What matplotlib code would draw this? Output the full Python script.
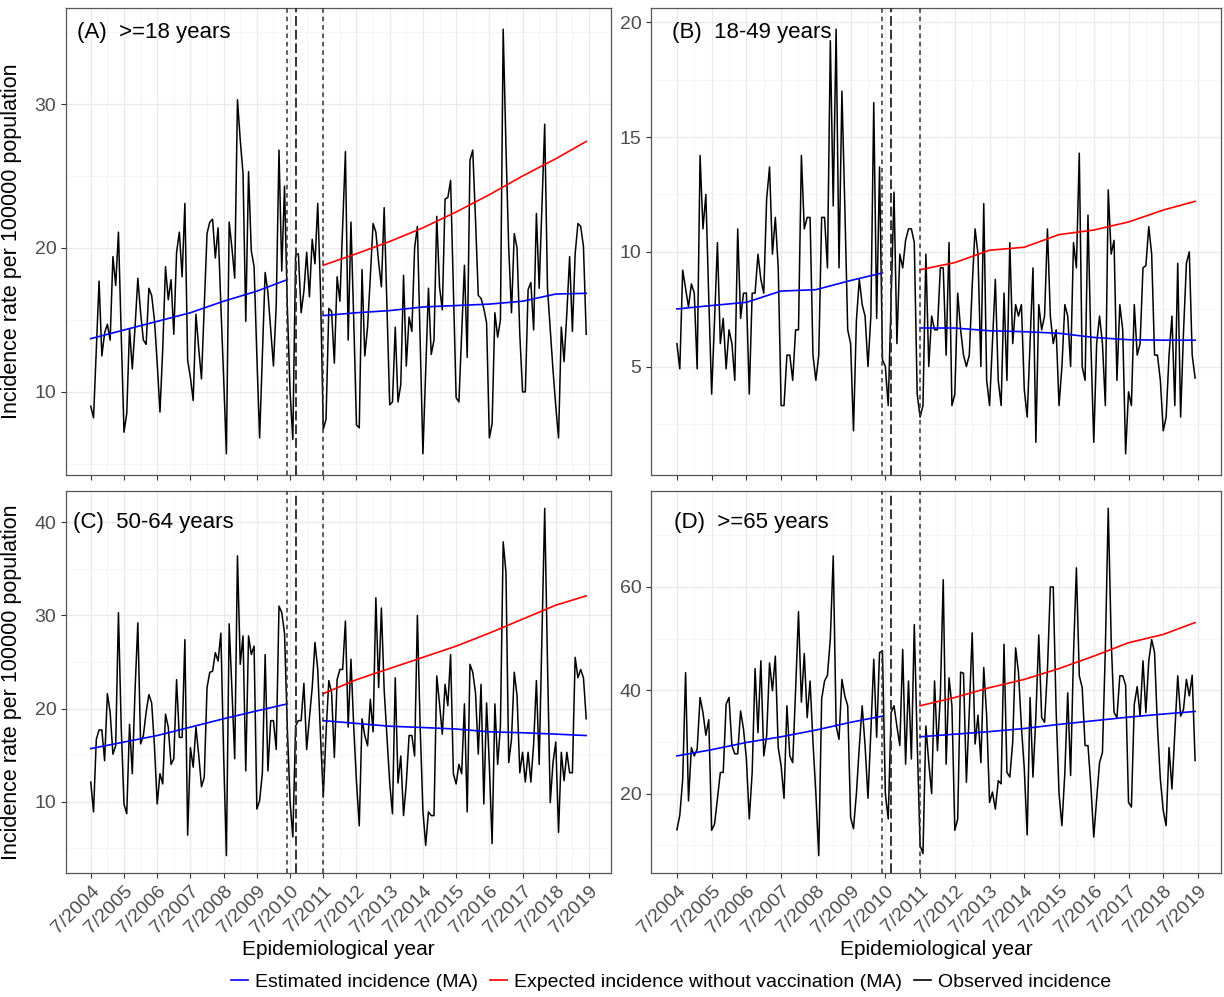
import numpy as np
import matplotlib
matplotlib.use("Agg")
import matplotlib.pyplot as plt
from matplotlib.lines import Line2D

plt.rcParams["font.family"] = ["Liberation Sans", "DejaVu Sans"]

# months since 7/2004 (0 .. 179 -> 7/2004 .. 6/2019)
year_labels = ["7/%d" % y for y in range(2004, 2020)]
cutoffs = [71, 74, 84]          # 6/2010, 9/2010, 7/2011
ma_pre_months = [0, 12, 24, 36, 48, 60, 71]
ma_post_months = [84, 96, 108, 120, 132, 144, 156, 168, 179]

# (A) >=18 years
obs_a = [9.0, 8.2, 13.0, 17.7, 12.5, 14.1, 14.7, 13.6, 19.4, 17.4,
         21.1, 14.0, 7.2, 8.5, 14.4, 11.6, 14.5, 17.9, 15.5, 13.6,
         13.3, 17.2, 16.7, 15.0, 12.0, 8.6, 13.0, 18.7, 16.4, 17.8,
         14.0, 19.7, 21.1, 18.0, 23.1, 12.2, 11.0, 9.4, 15.4, 13.0,
         10.9, 16.0, 21.0, 21.8, 22.0, 19.3, 21.4, 16.0, 11.0, 5.7,
         21.8, 20.0, 17.9, 30.3, 27.5, 25.2, 14.9, 25.3, 19.8, 18.7,
         12.5, 6.8, 12.5, 18.3, 16.9, 14.3, 11.8, 16.0, 26.8, 18.4,
         24.3, 16.0, 10.0, 6.7, 19.5, 19.6, 15.5, 17.0, 19.7, 16.6,
         20.6, 18.9, 23.1, 17.0, 7.4, 8.1, 15.8, 15.6, 12.0, 18.0,
         16.3, 21.5, 26.7, 13.6, 21.8, 15.0, 7.7, 7.5, 18.5, 12.5,
         14.5, 18.0, 21.7, 21.1, 19.0, 17.3, 22.8, 16.0, 9.1, 9.3,
         14.5, 9.3, 10.5, 18.1, 11.8, 15.2, 14.2, 20.0, 21.5, 13.5,
         5.7, 11.5, 17.2, 12.6, 13.6, 22.2, 17.3, 15.7, 23.4, 23.5,
         24.7, 17.0, 9.6, 9.3, 14.0, 18.8, 12.4, 26.1, 26.8, 22.0,
         16.7, 16.5, 15.8, 14.8, 6.8, 7.8, 15.5, 13.8, 15.0, 35.2,
         27.0, 20.0, 15.5, 21.0, 20.0, 14.0, 10.0, 10.0, 17.1, 17.6,
         14.3, 22.4, 17.2, 23.0, 28.6, 17.2, 14.3, 11.5, 9.0, 6.8,
         14.5, 12.1, 15.5, 19.4, 14.2, 19.6, 21.7, 21.5, 20.1, 14.0]
est_pre_a = [13.7, 14.3, 14.9, 15.5, 16.3, 17.0, 17.8]
est_post_a = [15.3, 15.5, 15.65, 15.9, 16.0, 16.1, 16.3, 16.8, 16.85]
exp_a = [18.8, 19.6, 20.45, 21.4, 22.5, 23.7, 25.0, 26.2, 27.4]

# (B) 18-49 years
obs_b = [6.0, 4.9, 9.2, 8.4, 7.6, 8.6, 8.2, 4.9, 14.2, 11.0,
         12.5, 8.0, 3.8, 7.0, 10.4, 6.0, 7.1, 4.9, 6.6, 6.0,
         4.4, 11.0, 7.1, 8.2, 8.2, 3.8, 8.2, 8.2, 9.9, 8.8,
         8.2, 12.3, 13.7, 9.9, 11.5, 9.3, 3.3, 3.3, 5.5, 5.5,
         4.4, 6.6, 6.6, 14.2, 11.0, 11.5, 11.5, 5.5, 4.4, 5.5,
         11.5, 11.5, 9.3, 19.2, 12.0, 19.7, 9.3, 17.0, 12.0, 6.6,
         6.0, 2.2, 7.0, 8.8, 7.7, 7.2, 5.0, 7.2, 16.5, 7.1,
         13.7, 5.3, 5.0, 3.3, 8.0, 12.6, 6.0, 9.9, 9.3, 10.5,
         11.0, 11.0, 10.4, 3.8, 2.8, 3.3, 9.9, 5.0, 7.2, 6.6,
         6.6, 9.3, 9.3, 5.5, 10.4, 3.3, 3.8, 8.2, 6.6, 5.5,
         5.0, 5.5, 8.5, 11.0, 9.9, 5.0, 12.1, 4.4, 3.3, 6.0,
         8.8, 4.4, 3.3, 8.2, 4.4, 10.4, 6.0, 7.7, 7.2, 7.7,
         4.0, 2.8, 6.0, 9.3, 1.7, 7.7, 6.6, 7.2, 11.0, 7.2,
         6.0, 6.6, 3.3, 5.0, 7.7, 7.2, 5.0, 10.4, 9.3, 14.3,
         5.0, 4.4, 11.6, 6.0, 1.7, 6.0, 7.2, 6.0, 3.3, 12.7,
         9.9, 10.5, 4.4, 7.7, 6.6, 1.2, 3.9, 3.3, 7.7, 5.5,
         6.0, 9.3, 9.4, 11.1, 9.9, 5.5, 5.5, 4.4, 2.2, 2.8,
         5.5, 7.2, 3.3, 9.5, 2.8, 6.5, 9.5, 10.0, 5.5, 4.5]
est_pre_b = [7.51, 7.66, 7.8, 8.29, 8.35, 8.75, 9.08]
est_post_b = [6.68, 6.68, 6.56, 6.52, 6.45, 6.27, 6.17, 6.15, 6.15]
exp_b = [9.22, 9.53, 10.07, 10.2, 10.75, 10.95, 11.3, 11.82, 12.2]

# (C) 50-64 years
obs_c = [12.1, 8.9, 16.7, 17.7, 17.7, 14.4, 21.6, 19.6, 15.1, 16.0,
         30.3, 18.0, 9.75, 8.7, 18.3, 13.0, 22.0, 29.2, 16.2, 17.1,
         19.6, 21.5, 20.6, 16.0, 9.75, 13.0, 11.9, 19.4, 18.0, 14.0,
         14.6, 23.1, 16.9, 16.9, 27.4, 6.4, 15.8, 13.7, 18.0, 15.0,
         11.6, 12.6, 22.25, 23.9, 24.0, 26.0, 25.1, 28.1, 15.0, 4.2,
         29.1, 22.0, 14.6, 36.4, 24.75, 27.8, 13.3, 27.8, 25.8, 26.7,
         9.2, 10.1, 13.1, 25.8, 13.3, 18.7, 18.7, 15.6, 31.0, 30.3,
         28.1, 18.0, 10.0, 6.2, 18.1, 18.7, 18.7, 22.7, 15.6, 19.0,
         22.25, 27.1, 24.2, 17.0, 10.5, 17.4, 23.0, 21.7, 14.75, 23.1,
         24.2, 24.2, 29.4, 18.0, 25.3, 18.0, 12.1, 7.4, 18.9, 17.1,
         16.0, 21.0, 17.5, 31.9, 22.25, 30.8, 22.0, 17.0, 12.0, 8.7,
         23.3, 12.0, 14.9, 8.5, 12.0, 17.1, 17.1, 14.9, 30.0, 18.0,
         9.0, 5.3, 8.9, 8.5, 8.5, 23.5, 20.5, 17.25, 22.6, 20.3,
         25.8, 13.0, 11.9, 14.0, 13.0, 20.5, 8.9, 24.75, 23.9, 21.7,
         15.1, 22.6, 9.75, 20.6, 13.9, 5.5, 20.5, 14.0, 18.1, 37.9,
         34.6, 14.2, 16.7, 23.9, 21.4, 13.1, 15.3, 12.1, 15.3, 12.1,
         16.2, 23.0, 14.0, 28.0, 41.5, 25.0, 9.9, 14.2, 16.4, 6.7,
         15.3, 12.25, 15.3, 13.1, 13.1, 25.5, 23.3, 24.2, 23.3, 18.9]
est_pre_c = [15.7, 16.4, 17.1, 18.0, 18.9, 19.75, 20.5]
est_post_c = [18.7, 18.4, 18.1, 17.96, 17.8, 17.5, 17.4, 17.25, 17.1]
exp_c = [21.6, 23.1, 24.3, 25.5, 26.7, 28.1, 29.6, 31.1, 32.1]

# (D) >=65 years
obs_d = [13.0, 15.8, 22.8, 43.4, 18.6, 28.9, 27.3, 28.6, 38.6, 35.7,
         31.3, 34.3, 12.9, 14.1, 19.0, 24.1, 24.1, 37.3, 38.6, 29.3,
         27.7, 27.7, 36.0, 32.5, 26.7, 15.1, 24.1, 44.2, 31.8, 45.7,
         27.3, 31.2, 45.3, 39.9, 46.6, 28.9, 25.4, 19.1, 37.0, 27.3,
         26.0, 40.0, 55.2, 37.7, 47.1, 34.7, 41.8, 30.0, 20.0, 8.0,
         38.3, 41.8, 42.9, 50.0, 66.0, 33.1, 30.5, 42.1, 38.9, 37.0,
         15.4, 13.2, 20.0, 29.0, 37.0, 29.3, 19.1, 32.0, 46.0, 30.9,
         47.3, 47.6, 20.0, 15.1, 35.7, 37.0, 33.0, 29.3, 47.9, 25.7,
         41.8, 26.7, 52.7, 30.0, 10.0, 8.4, 33.1, 26.0, 20.0, 41.8,
         28.3, 39.0, 61.4, 25.7, 42.4, 37.0, 12.9, 15.1, 43.5, 43.3,
         22.2, 36.0, 51.1, 29.6, 35.2, 26.0, 44.4, 35.0, 18.3, 20.3,
         17.0, 22.5, 21.9, 48.9, 24.1, 23.2, 30.0, 48.2, 43.4, 33.0,
         24.8, 12.0, 38.6, 23.2, 35.0, 50.7, 34.7, 33.8, 44.0, 60.0,
         60.0, 36.0, 20.0, 13.8, 24.0, 39.5, 23.5, 47.0, 63.7, 42.8,
         40.5, 29.3, 29.3, 21.5, 11.6, 19.0, 26.0, 28.0, 48.0, 75.2,
         50.0, 35.7, 34.7, 42.8, 42.8, 41.0, 18.3, 17.4, 37.3, 40.7,
         35.0, 45.7, 35.7, 45.7, 49.8, 47.3, 33.0, 22.8, 16.7, 13.8,
         28.9, 20.9, 32.0, 42.8, 35.0, 36.3, 42.1, 38.9, 42.9, 26.4]
est_pre_d = [27.3, 28.5, 29.9, 31.0, 32.3, 33.8, 35.0]
est_post_d = [31.0, 31.5, 32.0, 32.6, 33.4, 34.1, 34.8, 35.4, 35.9]
exp_d = [37.0, 38.6, 40.5, 42.1, 44.2, 46.6, 49.2, 50.8, 53.1]

W, H = 1224, 997
fig = plt.figure(figsize=(W / 100, H / 100), dpi=100)


def px_axes(left, top, right, bottom):
    return fig.add_axes([left / W, 1 - bottom / H, (right - left) / W, (bottom - top) / H])


panels = [
    dict(box=(66, 8, 611, 475), obs=obs_a, pre=est_pre_a, post=est_post_a, exp=exp_a,
         yt=[10, 20, 30], tag="(A)  >=18 years", tagpos=(0.02, 0.947), xlab=False, ylab=True),
    dict(box=(651, 8, 1221, 475), obs=obs_b, pre=est_pre_b, post=est_post_b, exp=exp_b,
         yt=[5, 10, 15, 20], tag="(B)  18-49 years", tagpos=(0.036, 0.947), xlab=False, ylab=False),
    dict(box=(66, 491, 611, 873), obs=obs_c, pre=est_pre_c, post=est_post_c, exp=exp_c,
         yt=[10, 20, 30, 40], tag="(C)  50-64 years", tagpos=(0.012, 0.918), xlab=True, ylab=True),
    dict(box=(651, 491, 1221, 873), obs=obs_d, pre=est_pre_d, post=est_post_d, exp=exp_d,
         yt=[20, 40, 60], tag="(D)  >=65 years", tagpos=(0.04, 0.918), xlab=True, ylab=False),
]

months = np.arange(len(obs_a))
xt = np.arange(0, 181, 12)

for p in panels:
    ax = px_axes(*p["box"])
    ax.plot(months, p["obs"], color="black", lw=1.1, zorder=3)
    ax.plot(ma_pre_months, p["pre"], color="#0000FF", lw=1.2, zorder=4)
    ax.plot(ma_post_months, p["post"], color="#0000FF", lw=1.2, zorder=4)
    ax.plot(ma_post_months, p["exp"], color="#FF0000", lw=1.2, zorder=4)
    ax.margins(x=0.05, y=0.05)
    ylim = ax.get_ylim()
    xlim = ax.get_xlim()
    ax.axvline(cutoffs[0], color="#333333", lw=1.1, ls=(0, (3, 2.5)), zorder=5)
    ax.axvline(cutoffs[1], color="#333333", lw=1.4, ls=(0, (5, 2)), zorder=5)
    ax.axvline(cutoffs[2], color="#333333", lw=1.1, ls=(0, (3, 2.5)), zorder=5)

    yt = p["yt"]
    step = yt[1] - yt[0]
    ax.set_yticks(yt)
    ax.set_yticks(np.arange(yt[0] - step * 1.5, yt[-1] + step * 2, step), minor=True)
    ax.set_xticks(xt)
    ax.set_xticks(xt[:-1] + 6, minor=True)
    ax.grid(which="major", color="#EBEBEB", lw=1.0, zorder=0)
    ax.grid(which="minor", color="#F4F4F4", lw=0.6, zorder=0)
    ax.set_ylim(ylim)
    ax.set_xlim(xlim)
    ax.set_axisbelow(True)

    ax.tick_params(which="major", length=3.5, width=0.8, color="#333333",
                   labelsize=14, labelcolor="#4D4D4D")
    ax.tick_params(which="minor", length=0)
    if p["xlab"]:
        ax.set_xticklabels(year_labels, rotation=45, ha="right", rotation_mode="anchor",
                           fontsize=14)
        ax.set_xlabel("Epidemiological year", fontsize=15)
        ax.xaxis.set_label_coords(0.5, -0.2)
        ax.xaxis.label.set_va("center")
    else:
        ax.set_xticklabels([])
    if p["ylab"]:
        ax.set_ylabel("Incidence rate per 100000 population", fontsize=15.5)
        ax.yaxis.set_label_coords(-0.081, 0.5)
    for s in ax.spines.values():
        s.set_color("#555555")
        s.set_linewidth(0.9)
    ax.text(p["tagpos"][0], p["tagpos"][1], p["tag"], transform=ax.transAxes,
            fontsize=16, ha="left", va="center")

handles = [Line2D([], [], color="#0000FF", lw=1.2),
           Line2D([], [], color="#FF0000", lw=1.2),
           Line2D([], [], color="black", lw=1.2)]
labels = ["Estimated incidence (MA)", "Expected incidence without vaccination (MA)",
          "Observed incidence"]
fig.legend(handles, labels, loc="center", bbox_to_anchor=(0.548, 0.015), ncol=3,
           frameon=False, fontsize=14, handlelength=0.9, handletextpad=0.35,
           columnspacing=0.6)

fig.savefig("out.png", dpi=100)
